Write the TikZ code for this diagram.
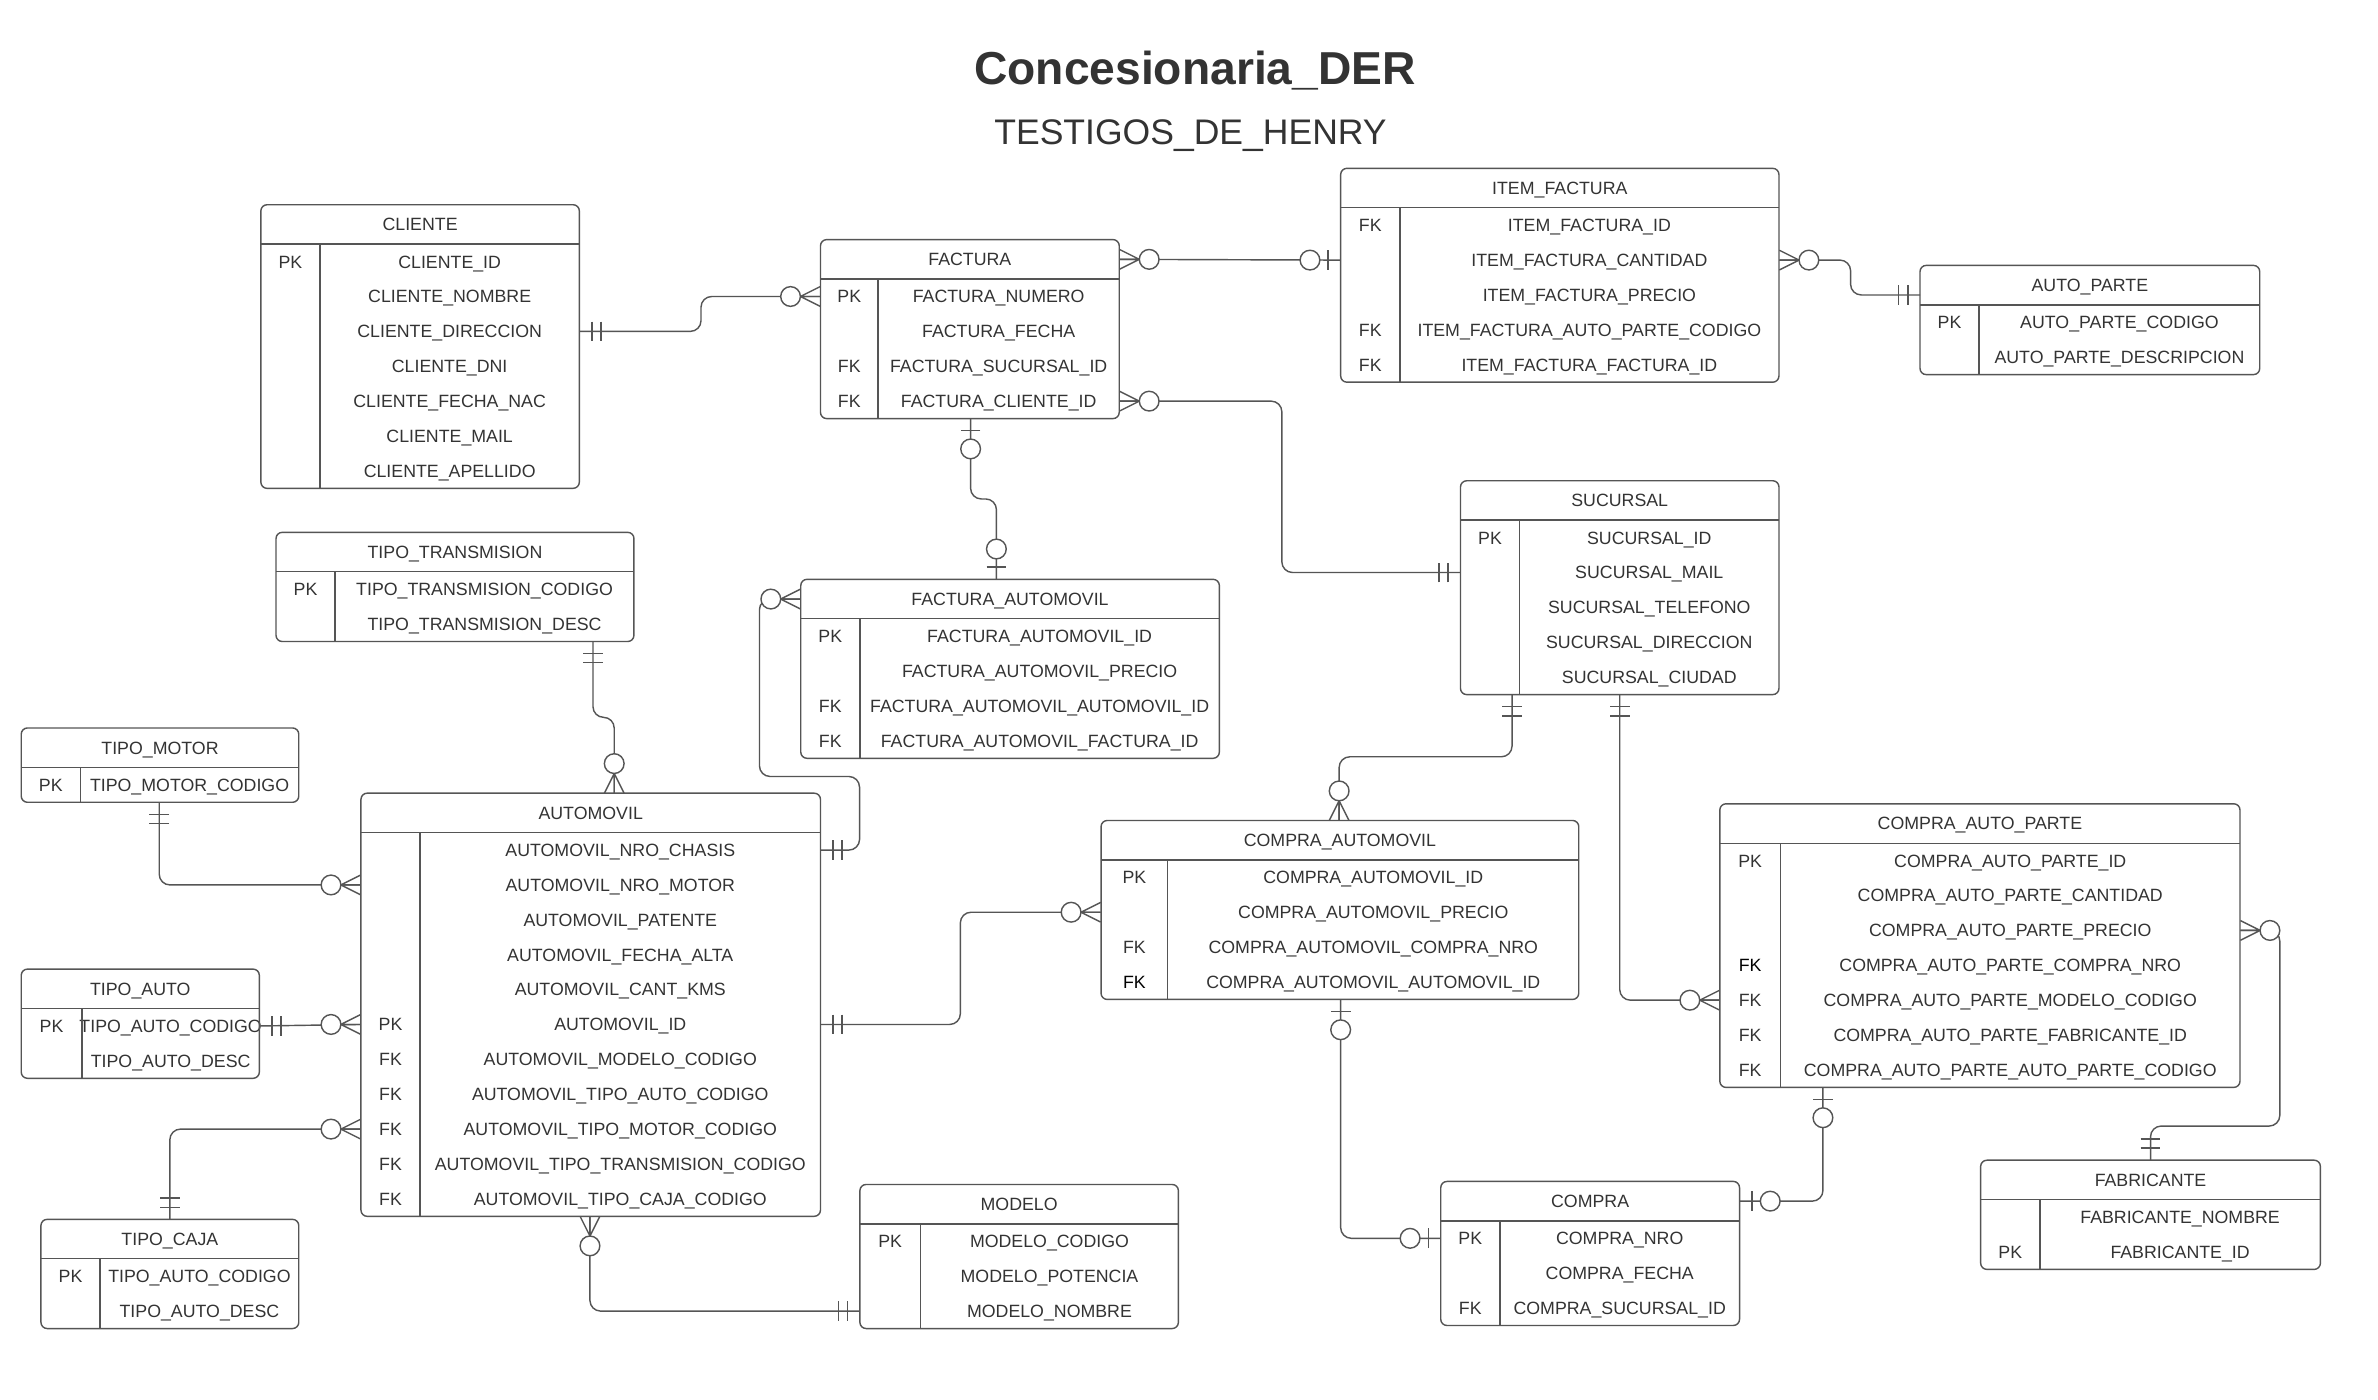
\documentclass[tikz,border=0pt]{standalone}
\usepackage{fontspec}
\setmainfont{Liberation Sans}
\definecolor{texto}{RGB}{51,51,51}
\definecolor{linea}{RGB}{85,85,85}

\tikzset{
	caja/.style={draw=linea, line width=0.8pt, rounded corners=3.5pt},
	sep/.style={draw=linea, line width=0.8pt},
	txt/.style={text=texto, font=\fontsize{10}{12}\selectfont, inner sep=0pt, text height=7.2pt, text depth=0pt},
	fila/.style={inner sep=0pt, minimum height=0.69cm},
	rel/.style={draw=linea, line width=0.8pt},
	ruta/.style={rel, rounded corners=6pt},
}

% entidad: nombre, izq, arriba, der, columna clave, titulo, filas clave/campo
\newcommand{\tabla}[7]{%
	\node[txt, minimum width={(#4-#2)*0.03cm}, minimum height=0.78cm] (#1) at ({(#2+#4)/2},{#3+13}) {#6};
	\foreach \clave/\campo [count=\i] in {#7}{%
		\pgfmathsetmacro{\yy}{#3+26+23*(\i-0.5)}
		\node[fila, minimum width={(#4-#2)*0.03cm}] (#1-\i) at ({(#2+#4)/2},\yy) {};
		\node[txt] (#1-\i-k) at ({(#2+#5)/2},\yy) {\clave};
		\node[txt] (#1-\i-v) at ({(#5+#4)/2},\yy) {\campo};
		\xdef\nfilas{\i}
	}
	\pgfmathsetmacro{\yfin}{#3+26+23*\nfilas}
	\draw[caja] (#2,#3) rectangle (#4,\yfin);
	\draw[sep] (#2,{#3+26}) -- (#4,{#3+26}) (#5,{#3+26}) -- (#5,\yfin);
}

% extremos de las relaciones: punto, direccion hacia afuera
\newcommand{\unoobl}[2]{%
	\begin{scope}[shift={(#1)}, rotate=#2]
		\draw[rel] (8,-6.5) -- (8,6.5) (14,-6.5) -- (14,6.5);
	\end{scope}}
\newcommand{\ceroouno}[2]{%
	\begin{scope}[shift={(#1)}, rotate=#2]
		\draw[rel] (8,-6.5) -- (8,6.5);
		\draw[rel, fill=white] (20,0) circle [radius=6.5];
	\end{scope}}
\newcommand{\ceroomuchos}[2]{%
	\begin{scope}[shift={(#1)}, rotate=#2]
		\draw[rel] (0,-6.5) -- (13,0) -- (0,6.5) (0,0) -- (13,0);
		\draw[rel, fill=white] (19.5,0) circle [radius=6.5];
	\end{scope}}
\newcommand{\fkn}{\textcolor{black}{FK}}

\begin{document}
\begin{tikzpicture}[x=0.03cm, y=-0.03cm]
	\fill[white] (0,0) rectangle (1568,923);
	\useasboundingbox (0,0) rectangle (1568,923);

	\node[text=texto, font=\bfseries\fontsize{26}{30}\selectfont, anchor=base] (titulo) at (788,56) {Concesionaria\_DER};
	\node[text=texto, font=\fontsize{20}{24}\selectfont, anchor=base] (subtitulo) at (785,95.5) {TESTIGOS\_DE\_HENRY};

	\tabla{cliente}{172}{135}{382}{211}{CLIENTE}{PK/CLIENTE\_ID, /CLIENTE\_NOMBRE, /CLIENTE\_DIRECCION, /CLIENTE\_DNI, /CLIENTE\_FECHA\_NAC, /CLIENTE\_MAIL, /CLIENTE\_APELLIDO}
	\tabla{factura}{541}{158}{738}{579}{FACTURA}{PK/FACTURA\_NUMERO, /FACTURA\_FECHA, FK/FACTURA\_SUCURSAL\_ID, FK/FACTURA\_CLIENTE\_ID}
	\tabla{item}{884}{111}{1173}{923}{ITEM\_FACTURA}{FK/ITEM\_FACTURA\_ID, /ITEM\_FACTURA\_CANTIDAD, /ITEM\_FACTURA\_PRECIO, FK/ITEM\_FACTURA\_AUTO\_PARTE\_CODIGO, FK/ITEM\_FACTURA\_FACTURA\_ID}
	\tabla{autoparte}{1266}{175}{1490}{1305}{AUTO\_PARTE}{PK/AUTO\_PARTE\_CODIGO, /AUTO\_PARTE\_DESCRIPCION}
	\tabla{sucursal}{963}{317}{1173}{1002}{SUCURSAL}{PK/SUCURSAL\_ID, /SUCURSAL\_MAIL, /SUCURSAL\_TELEFONO, /SUCURSAL\_DIRECCION, /SUCURSAL\_CIUDAD}
	\tabla{tipotrans}{182}{351}{418}{221}{TIPO\_TRANSMISION}{PK/TIPO\_TRANSMISION\_CODIGO, /TIPO\_TRANSMISION\_DESC}
	\tabla{factauto}{528}{382}{804}{567}{FACTURA\_AUTOMOVIL}{PK/FACTURA\_AUTOMOVIL\_ID, /FACTURA\_AUTOMOVIL\_PRECIO, FK/FACTURA\_AUTOMOVIL\_AUTOMOVIL\_ID, FK/FACTURA\_AUTOMOVIL\_FACTURA\_ID}
	\tabla{tipomotor}{14}{480}{197}{53}{TIPO\_MOTOR}{PK/TIPO\_MOTOR\_CODIGO}
	\tabla{automovil}{238}{523}{541}{277}{AUTOMOVIL}{/AUTOMOVIL\_NRO\_CHASIS, /AUTOMOVIL\_NRO\_MOTOR, /AUTOMOVIL\_PATENTE, /AUTOMOVIL\_FECHA\_ALTA, /AUTOMOVIL\_CANT\_KMS, PK/AUTOMOVIL\_ID, FK/AUTOMOVIL\_MODELO\_CODIGO, FK/AUTOMOVIL\_TIPO\_AUTO\_CODIGO, FK/AUTOMOVIL\_TIPO\_MOTOR\_CODIGO, FK/AUTOMOVIL\_TIPO\_TRANSMISION\_CODIGO, FK/AUTOMOVIL\_TIPO\_CAJA\_CODIGO}
	\tabla{tipoauto}{14}{639}{171}{54}{TIPO\_AUTO}{PK/TIPO\_AUTO\_CODIGO, /TIPO\_AUTO\_DESC}
	\tabla{tipocaja}{27}{804}{197}{66}{TIPO\_CAJA}{PK/TIPO\_AUTO\_CODIGO, /TIPO\_AUTO\_DESC}
	\tabla{modelo}{567}{781}{777}{607}{MODELO}{PK/MODELO\_CODIGO, /MODELO\_POTENCIA, /MODELO\_NOMBRE}
	\tabla{compraauto}{726}{541}{1041}{770}{COMPRA\_AUTOMOVIL}{PK/COMPRA\_AUTOMOVIL\_ID, /COMPRA\_AUTOMOVIL\_PRECIO, FK/COMPRA\_AUTOMOVIL\_COMPRA\_NRO, \fkn/COMPRA\_AUTOMOVIL\_AUTOMOVIL\_ID}
	\tabla{cap}{1134}{530}{1477}{1174}{COMPRA\_AUTO\_PARTE}{PK/COMPRA\_AUTO\_PARTE\_ID, /COMPRA\_AUTO\_PARTE\_CANTIDAD, /COMPRA\_AUTO\_PARTE\_PRECIO, \fkn/COMPRA\_AUTO\_PARTE\_COMPRA\_NRO, FK/COMPRA\_AUTO\_PARTE\_MODELO\_CODIGO, FK/COMPRA\_AUTO\_PARTE\_FABRICANTE\_ID, FK/COMPRA\_AUTO\_PARTE\_AUTO\_PARTE\_CODIGO}
	\tabla{compra}{950}{779}{1147}{989}{COMPRA}{PK/COMPRA\_NRO, /COMPRA\_FECHA, FK/COMPRA\_SUCURSAL\_ID}
	\tabla{fabricante}{1306}{765}{1530}{1345}{FABRICANTE}{/FABRICANTE\_NOMBRE, PK/FABRICANTE\_ID}

	% puntos de enganche arriba / abajo
	\coordinate (fa-ab) at (640,276);
	\coordinate (fau-arr) at (657,382);
	\coordinate (ap-izq) at (1266,194.5);
	\coordinate (tt-ab) at (391,423);
	\coordinate (au-arr) at (405,523);
	\coordinate (tm-ab) at (105,529);
	\coordinate (tc-arr) at (112,804);
	\coordinate (au-ab) at (389,802);
	\coordinate (su-ab1) at (997,458);
	\coordinate (su-ab2) at (1068,458);
	\coordinate (ca-arr) at (883,541);
	\coordinate (ca-ab) at (884,659);
	\coordinate (cap-ab) at (1202,717);
	\coordinate (fab-arr) at (1418,765);

	% relaciones
	\draw[ruta] (cliente-3.east) -- ++(80,0) |- (factura-1.west);
	\draw[ruta] (factura.east) -- (item-2.west);
	\draw[ruta] (item-2.east) -- ++(47,0) |- (ap-izq);
	\draw[ruta] (factura-4.east) -- ++(107,0) |- (sucursal-2.west);
	\draw[ruta] (fa-ab) -- ++(0,53) -| (fau-arr);
	\draw[ruta] (factauto.west) -- ++(-27,0) -- ++(0,117) -- ++(66,0) |- (automovil-1.east);
	\draw[ruta] (tt-ab) -- ++(0,50) -| (au-arr);
	\draw[ruta] (tm-ab) |- (automovil-2.west);
	\draw[ruta] (tipoauto-1.east) -- (automovil-6.west);
	\draw[ruta] (tc-arr) |- (automovil-9.west);
	\draw[ruta] (au-ab) |- (modelo-3.west);
	\draw[ruta] (automovil-6.east) -- ++(92,0) |- (compraauto-2.west);
	\draw[ruta] (su-ab1) -- ++(0,41) -| (ca-arr);
	\draw[ruta] (su-ab2) |- (cap-5.west);
	\draw[ruta] (ca-ab) |- (compra-1.west);
	\draw[ruta] (cap-ab) |- (compra.east);
	\draw[ruta] (cap-3.east) -- ++(26,0) -- ++(0,129) -| (fab-arr);

	% cardinalidades
	\unoobl{cliente-3.east}{0} \ceroomuchos{factura-1.west}{180}
	\ceroomuchos{factura.east}{0} \ceroouno{item-2.west}{180}
	\ceroomuchos{item-2.east}{0} \unoobl{ap-izq}{180}
	\ceroomuchos{factura-4.east}{0} \unoobl{sucursal-2.west}{180}
	\ceroouno{fa-ab}{-90} \ceroouno{fau-arr}{90}
	\ceroomuchos{factauto.west}{180} \unoobl{automovil-1.east}{0}
	\unoobl{tt-ab}{-90} \ceroomuchos{au-arr}{90}
	\unoobl{tm-ab}{-90} \ceroomuchos{automovil-2.west}{180}
	\unoobl{tipoauto-1.east}{0} \ceroomuchos{automovil-6.west}{180}
	\unoobl{tc-arr}{90} \ceroomuchos{automovil-9.west}{180}
	\ceroomuchos{au-ab}{-90} \unoobl{modelo-3.west}{180}
	\unoobl{automovil-6.east}{0} \ceroomuchos{compraauto-2.west}{180}
	\unoobl{su-ab1}{-90} \ceroomuchos{ca-arr}{90}
	\unoobl{su-ab2}{-90} \ceroomuchos{cap-5.west}{180}
	\ceroouno{ca-ab}{-90} \ceroouno{compra-1.west}{180}
	\ceroouno{cap-ab}{-90} \ceroouno{compra.east}{0}
	\ceroomuchos{cap-3.east}{0} \unoobl{fab-arr}{90}
\end{tikzpicture}
\end{document}
